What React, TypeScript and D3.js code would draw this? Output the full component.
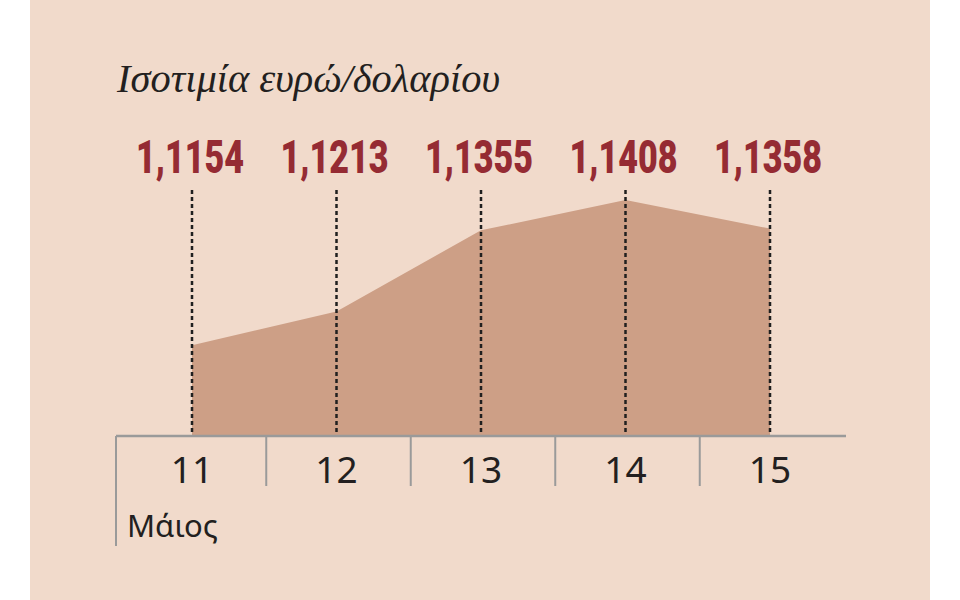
import React from "react";
import * as d3 from "d3";

const days = ["11", "12", "13", "14", "15"];
const values = [1.1154, 1.1213, 1.1355, 1.1408, 1.1358];
const valueLabels = ["1,1154", "1,1213", "1,1355", "1,1408", "1,1358"];
const title = "Ισοτιμία ευρώ/δολαρίου";
const monthLabel = "Μάιος";

const W = 960;
const H = 600;

export default function App() {
  const x = d3.scaleLinear().domain([0, days.length - 1]).range([192, 770]);
  const y = d3.scaleLinear().domain([1.0995, 1.1408]).range([436, 200]);
  const baseY = 436;

  const area = d3
    .area<number>()
    .x((_, i) => x(i))
    .y0(baseY)
    .y1((d) => y(d));

  const valueFont = "Roboto, 'Liberation Sans', sans-serif";

  return (
    <svg
      width={W}
      height={H}
      style={{ position: "absolute", left: 0, top: 0, display: "block" }}
    >
      <rect x={0} y={0} width={W} height={H} fill="#ffffff" />
      <rect x={30} y={0} width={900} height={H} fill="#F1DACB" />
      <text
        x={117}
        y={92}
        fontFamily="'Liberation Serif', 'DejaVu Serif', serif"
        fontStyle="italic"
        fontSize={40}
        textLength={383}
        lengthAdjust="spacingAndGlyphs"
        fill="#231f20"
      >
        {title}
      </text>
      <path d={area(values) || ""} fill="#CD9F86" />
      {values.map((v, i) => (
        <line
          key={"d" + i}
          x1={x(i)}
          x2={x(i)}
          y1={190}
          y2={baseY}
          stroke="#1f1f1f"
          strokeWidth={2.5}
          strokeDasharray="4 3"
        />
      ))}
      {valueLabels.map((t, i) => (
        <text
          key={"v" + i}
          x={x(i) - 56}
          y={173}
          fontFamily={valueFont}
          fontWeight={900}
          fontSize={47}
          textLength={108}
          lengthAdjust="spacingAndGlyphs"
          fill="#952B33"
        >
          {t}
        </text>
      ))}
      <line x1={116} x2={846} y1={baseY} y2={baseY} stroke="#9a9a9a" strokeWidth={2.5} />
      <line x1={116} x2={116} y1={baseY} y2={546} stroke="#9a9a9a" strokeWidth={2} />
      {days.slice(0, -1).map((_, i) => (
        <line
          key={"s" + i}
          x1={x(i + 0.5) + 2}
          x2={x(i + 0.5) + 2}
          y1={baseY}
          y2={486}
          stroke="#9a9a9a"
          strokeWidth={2}
        />
      ))}
      {days.map((d, i) => (
        <text
          key={"t" + i}
          x={x(i)}
          y={483}
          textAnchor="middle"
          fontFamily="'Noto Sans', 'Open Sans', sans-serif"
          fontSize={37}
          fill="#231f20"
        >
          {d}
        </text>
      ))}
      <text
        x={127}
        y={537}
        fontFamily="'Noto Sans', 'Open Sans', sans-serif"
        fontSize={31}
        fill="#231f20"
      >
        {monthLabel}
      </text>
    </svg>
  );
}
